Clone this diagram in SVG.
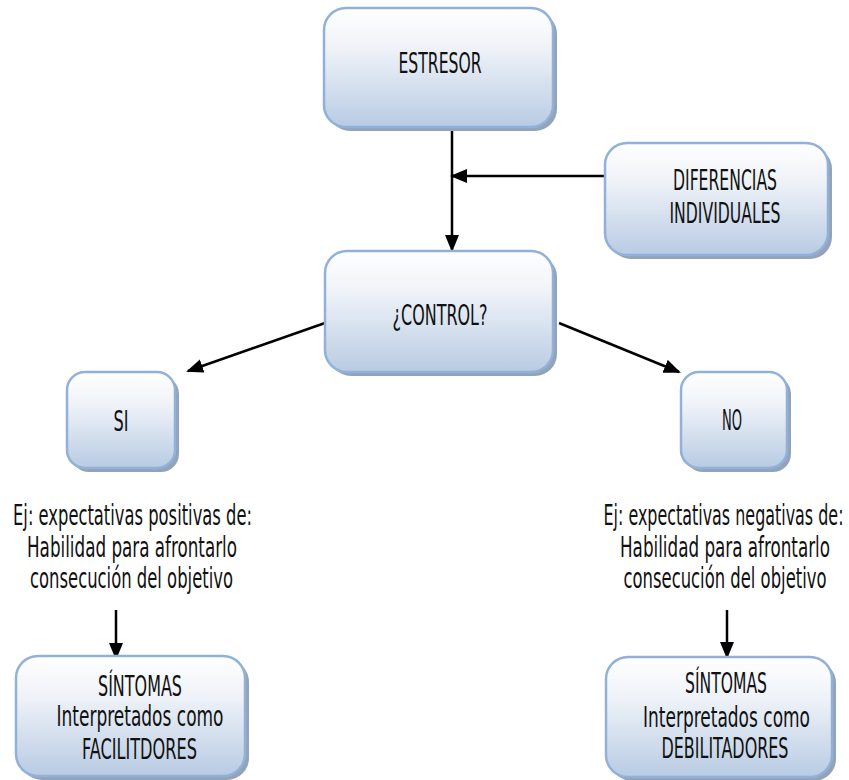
<svg xmlns="http://www.w3.org/2000/svg" width="849" height="780" viewBox="0 0 849 780">
<defs>
<linearGradient id="g" x1="0" y1="0" x2="0" y2="1">
<stop offset="0" stop-color="#ffffff"/>
<stop offset="0.35" stop-color="#eef2f8"/>
<stop offset="1" stop-color="#b8cbe3"/>
</linearGradient>
<marker id="ah" markerUnits="userSpaceOnUse" markerWidth="18" markerHeight="16" refX="15" refY="7" orient="auto">
<path d="M0,0 L17,7 L0,14 Z" fill="#000"/>
</marker>
</defs>
<style>
.box{fill:url(#g);stroke:#92b1d8;stroke-width:2.5}
.sh{fill:#93a4ba}
.t{font-family:"DejaVu Sans Condensed","DejaVu Sans","Liberation Sans",sans-serif;font-stretch:condensed;font-size:28px;fill:#111;text-anchor:middle}
.c{stroke:#000;stroke-width:2.5;fill:none;marker-end:url(#ah)}
</style>
<rect width="849" height="780" fill="#fff"/>
<g id="connectors">
<line class="c" x1="452" y1="127" x2="452" y2="250"/>
<line class="c" x1="605" y1="176" x2="452" y2="176"/>
<line class="c" x1="325" y1="323" x2="188" y2="371"/>
<line class="c" x1="559" y1="323" x2="679" y2="372"/>
<line class="c" x1="116" y1="610" x2="116" y2="658"/>
<line class="c" x1="727" y1="610" x2="727" y2="657"/>
</g>
<g id="estresor">
<rect class="sh" x="328" y="12" width="229" height="119" rx="22"/>
<rect class="box" x="324" y="8" width="229" height="119" rx="22"/>
<text class="t" transform="translate(440,73) scale(0.7,1)" textLength="118.6" lengthAdjust="spacingAndGlyphs">ESTRESOR</text>
</g>
<g id="diferencias">
<rect class="sh" x="609" y="147" width="223" height="112" rx="22"/>
<rect class="box" x="605" y="143" width="223" height="112" rx="22"/>
<text class="t" transform="translate(725,190) scale(0.7,1)" textLength="148.6" lengthAdjust="spacingAndGlyphs">DIFERENCIAS</text>
<text class="t" transform="translate(725,223) scale(0.7,1)" textLength="158.6" lengthAdjust="spacingAndGlyphs">INDIVIDUALES</text>
</g>
<g id="control">
<rect class="sh" x="329" y="255" width="228" height="121" rx="22"/>
<rect class="box" x="325" y="251" width="228" height="121" rx="22"/>
<text class="t" transform="translate(440,325) scale(0.7,1)" textLength="135.7" lengthAdjust="spacingAndGlyphs">¿CONTROL?</text>
</g>
<g id="si">
<rect class="sh" x="71" y="376" width="108" height="96" rx="18"/>
<rect class="box" x="67" y="372" width="108" height="96" rx="18"/>
<text class="t" transform="translate(121,431) scale(0.7,1)" textLength="21.4" lengthAdjust="spacingAndGlyphs">SI</text>
</g>
<g id="no">
<rect class="sh" x="685" y="376" width="106" height="96" rx="18"/>
<rect class="box" x="681" y="372" width="106" height="96" rx="18"/>
<text class="t" transform="translate(732,430) scale(0.7,1)" textLength="28.6" lengthAdjust="spacingAndGlyphs">NO</text>
</g>
<g id="ej-positivas">
<text class="t" transform="translate(132.5,525) scale(0.7,1)" textLength="341.4" lengthAdjust="spacingAndGlyphs">Ej: expectativas positivas de:</text>
<text class="t" transform="translate(132,557) scale(0.7,1)" textLength="300" lengthAdjust="spacingAndGlyphs">Habilidad para afrontarlo</text>
<text class="t" transform="translate(131.5,588) scale(0.7,1)" textLength="290" lengthAdjust="spacingAndGlyphs">consecución del objetivo</text>
</g>
<g id="ej-negativas">
<text class="t" transform="translate(723.5,525) scale(0.55,1)" textLength="436.4" lengthAdjust="spacingAndGlyphs">Ej: expectativas negativas de:</text>
<text class="t" transform="translate(725,557) scale(0.7,1)" textLength="300" lengthAdjust="spacingAndGlyphs">Habilidad para afrontarlo</text>
<text class="t" transform="translate(725,588) scale(0.7,1)" textLength="290" lengthAdjust="spacingAndGlyphs">consecución del objetivo</text>
</g>
<g id="sintomas-facilitadores">
<rect class="sh" x="20" y="660" width="229" height="120" rx="22"/>
<rect class="box" x="16" y="656" width="229" height="120" rx="22"/>
<text class="t" transform="translate(140,696) scale(0.7,1)" textLength="120" lengthAdjust="spacingAndGlyphs">SÍNTOMAS</text>
<text class="t" transform="translate(140,726) scale(0.7,1)" textLength="238.6" lengthAdjust="spacingAndGlyphs">Interpretados como</text>
<text class="t" transform="translate(139.5,759) scale(0.7,1)" textLength="164.3" lengthAdjust="spacingAndGlyphs">FACILITDORES</text>
</g>
<g id="sintomas-debilitadores">
<rect class="sh" x="610" y="661" width="226" height="120" rx="22"/>
<rect class="box" x="606" y="657" width="226" height="120" rx="22"/>
<text class="t" transform="translate(726,693) scale(0.7,1)" textLength="117.1" lengthAdjust="spacingAndGlyphs">SÍNTOMAS</text>
<text class="t" transform="translate(726.5,727) scale(0.7,1)" textLength="238.6" lengthAdjust="spacingAndGlyphs">Interpretados como</text>
<text class="t" transform="translate(725,758) scale(0.7,1)" textLength="181.4" lengthAdjust="spacingAndGlyphs">DEBILITADORES</text>
</g>
</svg>
